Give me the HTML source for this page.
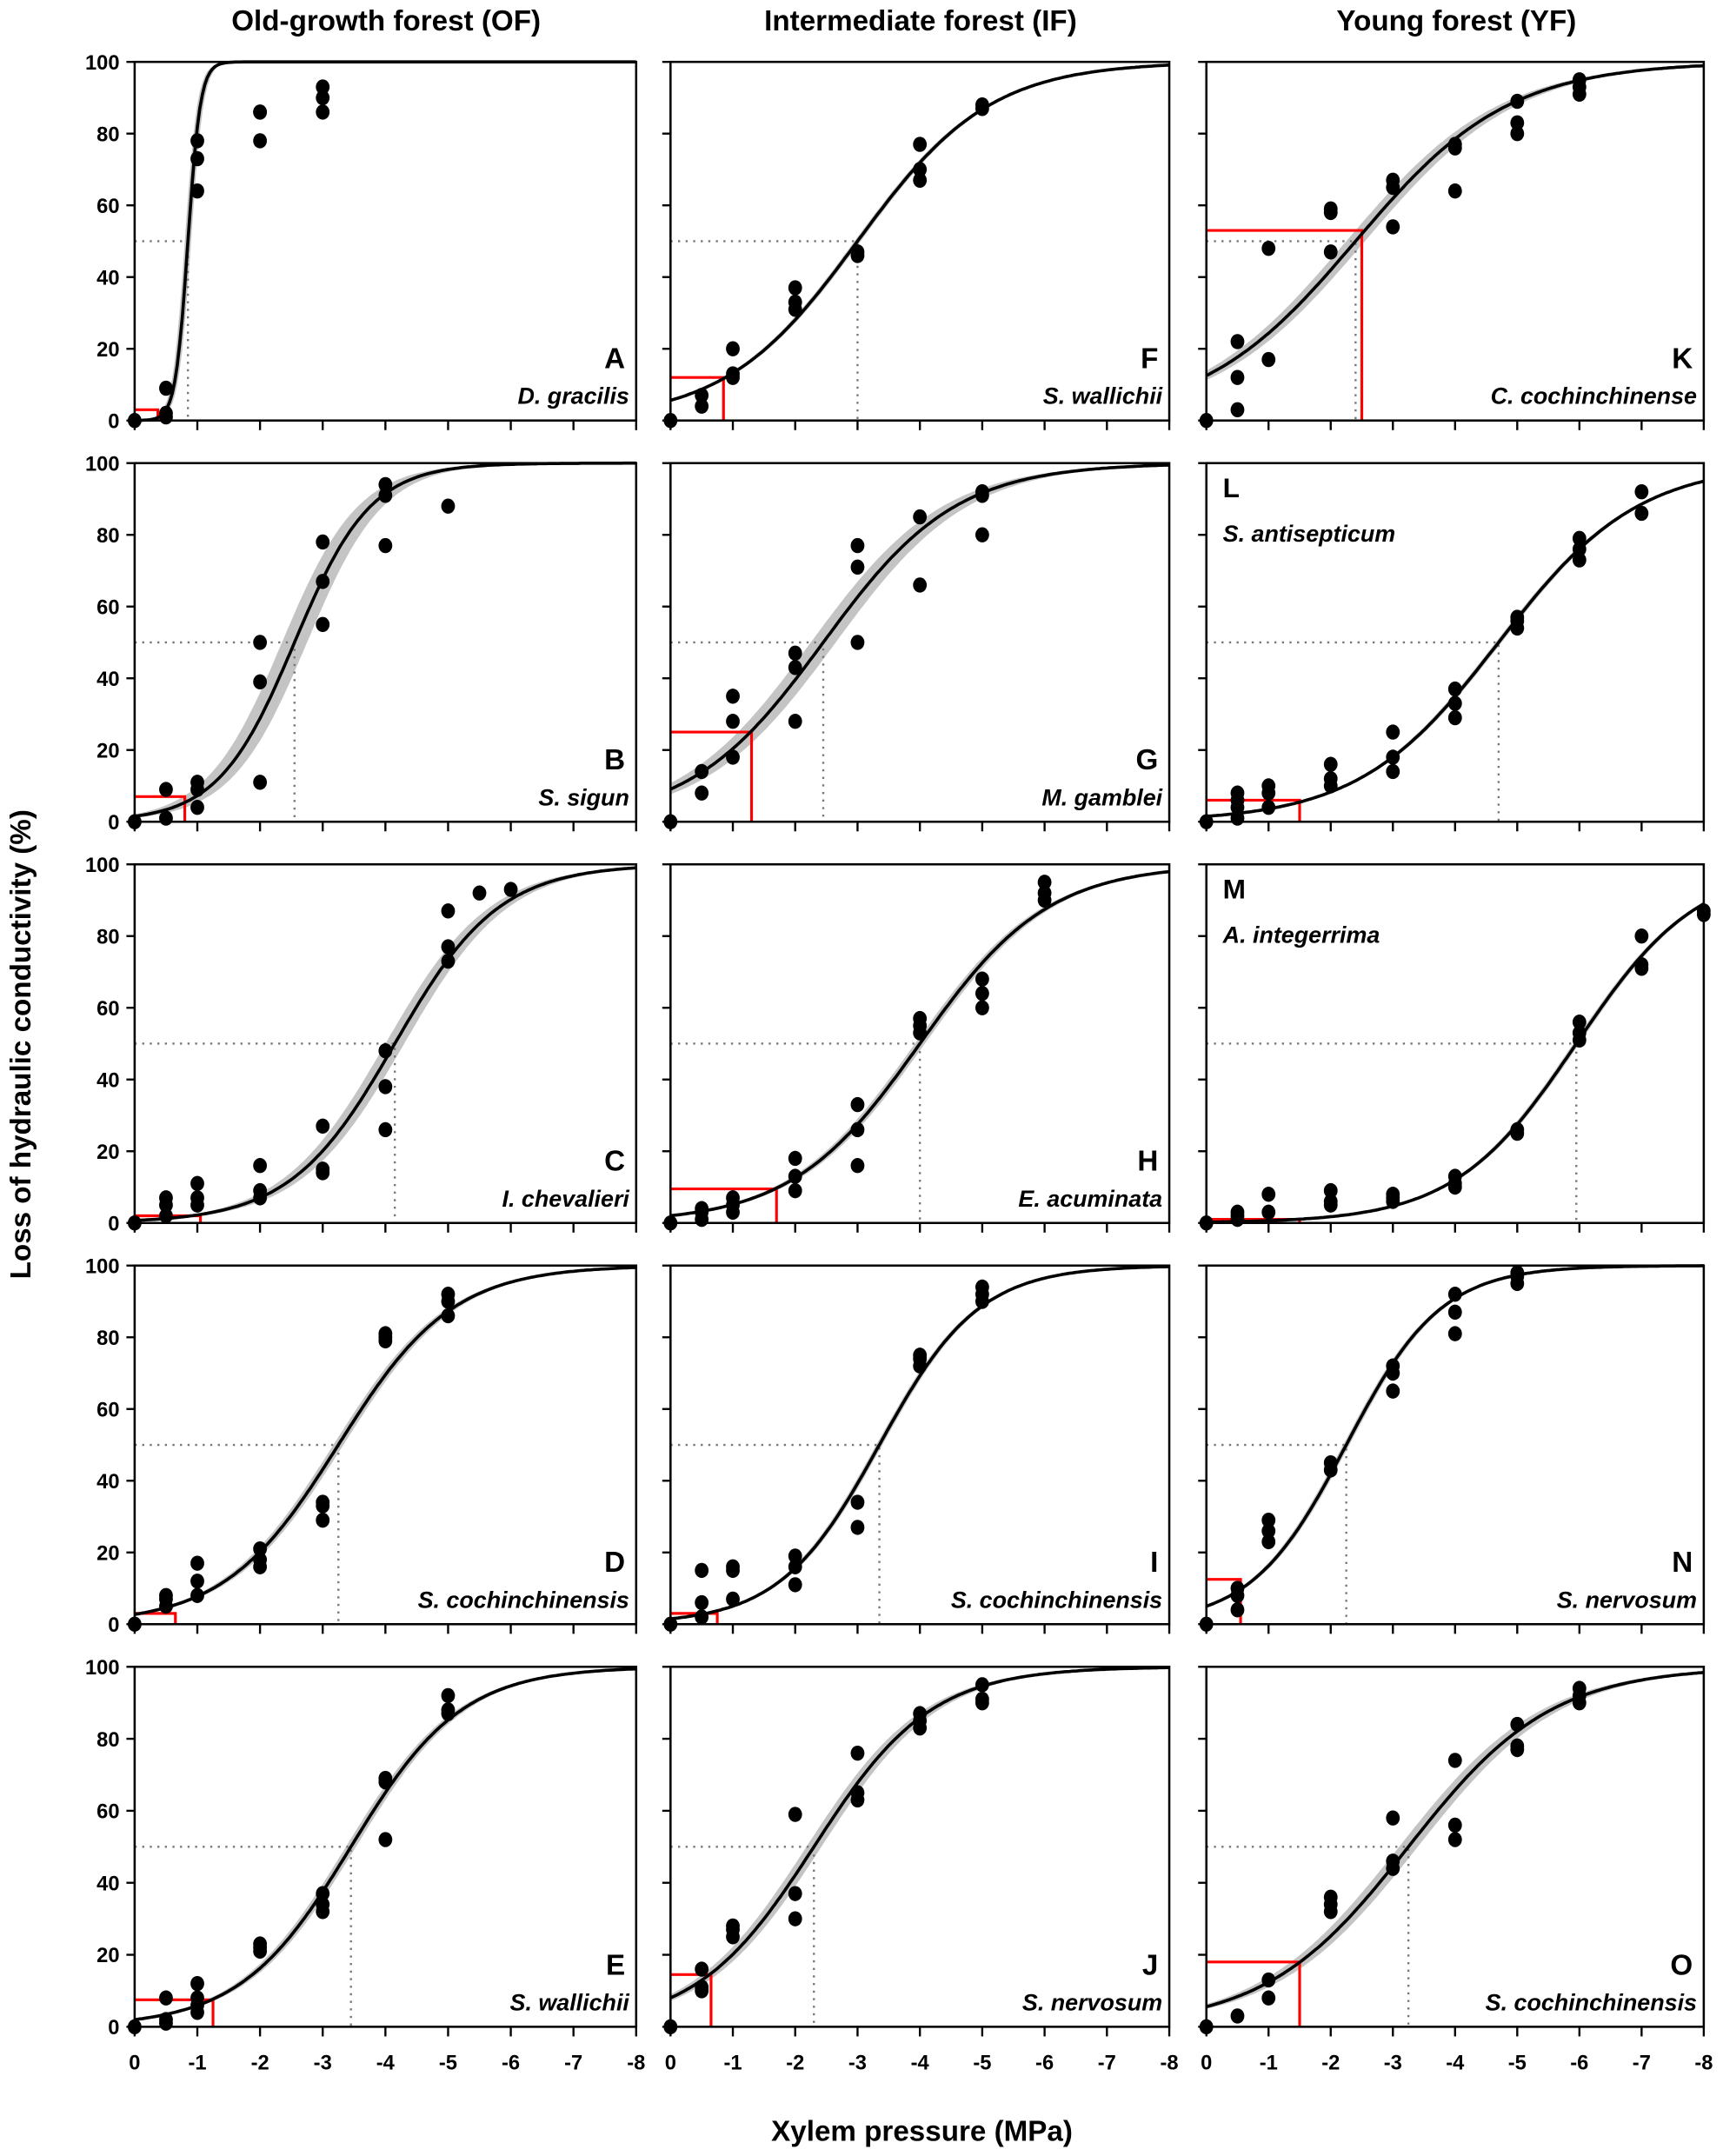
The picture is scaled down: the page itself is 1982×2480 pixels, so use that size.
<!DOCTYPE html>
<html><head><meta charset="utf-8">
<style>html,body{margin:0;padding:0;background:#fff}svg{display:block}text{font-family:"Liberation Sans",Arial,sans-serif;font-weight:bold}</style>
</head><body>
<svg id="s" xmlns="http://www.w3.org/2000/svg" width="1982" height="2480" viewBox="0 0 1254 1569"></svg>
<script>
const S=document.getElementById('s');let h='';
const cols=[[98,463],[488,851],[878,1240]];
const rows=[[45,306],[337,598],[629,890],[921,1182],[1213,1475]];
const P=[
// col1
[["A","D. gracilis",0.85,10,3,0.37,0.05,0,[[0,0],[0.5,1],[0.5,2],[0.5,9],[1,64],[1,73],[1,78],[2,78],[2,86],[2,86],[3,86],[3,90],[3,93]]],
 ["B","S. sigun",2.55,1.64,7,0.8,0.2,0,[[0,0],[0.5,1],[0.5,9],[1,4],[1,9],[1,11],[2,11],[2,39],[2,50],[3,55],[3,67],[3,78],[4,77],[4,91],[4,94],[5,88]]],
 ["C","I. chevalieri",4.15,1.2,2,1.05,0.15,0,[[0,0],[0.5,2],[0.5,5],[0.5,7],[1,5],[1,7],[1,11],[2,7],[2,9],[2,16],[3,14],[3,15],[3,27],[4,26],[4,38],[4,48],[5,73],[5,77],[5,87],[5.5,92],[6,93]]],
 ["D","S. cochinchinensis",3.25,1.1,3,0.65,0.08,0,[[0,0],[0.5,5],[0.5,7],[0.5,8],[1,8],[1,12],[1,17],[2,16],[2,18],[2,21],[3,29],[3,33],[3,34],[4,79],[4,80],[4,81],[5,86],[5,90],[5,92]]],
 ["E","S. wallichii",3.45,1.13,7.5,1.25,0.08,0,[[0,0],[0.5,1],[0.5,2],[0.5,8],[1,4],[1,6],[1,8],[1,12],[2,21],[2,22],[2,23],[3,32],[3,34],[3,37],[4,52],[4,68],[4,69],[5,87],[5,88],[5,92]]]],
[["F","S. wallichii",3.0,0.94,12,0.85,0.05,0,[[0,0],[0.5,4],[0.5,7],[1,12],[1,13],[1,20],[2,31],[2,33],[2,37],[3,46],[3,47],[4,67],[4,70],[4,77],[5,87],[5,88]]],
 ["G","M. gamblei",2.45,0.94,25,1.3,0.2,0,[[0,0],[0.5,8],[0.5,14],[1,18],[1,28],[1,35],[2,28],[2,43],[2,47],[3,50],[3,71],[3,77],[4,66],[4,85],[5,80],[5,91],[5,92]]],
 ["H","E. acuminata",4.0,0.97,9.5,1.7,0.08,0,[[0,0],[0.5,1],[0.5,3],[0.5,4],[1,3],[1,5],[1,7],[2,9],[2,13],[2,18],[3,16],[3,26],[3,33],[4,53],[4,55],[4,57],[5,60],[5,64],[5,68],[6,90],[6,92],[6,95]]],
 ["I","S. cochinchinensis",3.35,1.25,3,0.75,0.05,0,[[0,0],[0.5,2],[0.5,6],[0.5,15],[1,7],[1,15],[1,16],[2,11],[2,16],[2,19],[3,27],[3,34],[4,72],[4,74],[4,75],[5,90],[5,92],[5,94]]],
 ["J","S. nervosum",2.3,1.06,14.5,0.65,0.12,0,[[0,0],[0.5,10],[0.5,11],[0.5,16],[1,25],[1,27],[1,28],[2,30],[2,37],[2,59],[3,63],[3,65],[3,76],[4,83],[4,85],[4,87],[5,90],[5,91],[5,95]]]],
[["K","C. cochinchinense",2.4,0.81,53,2.5,0.15,0,[[0,0],[0.5,3],[0.5,12],[0.5,22],[1,17],[1,48],[2,47],[2,58],[2,59],[3,54],[3,65],[3,67],[4,64],[4,76],[4,77],[5,80],[5,83],[5,89],[6,91],[6,93],[6,95]]],
 ["L","S. antisepticum",4.7,0.89,6,1.5,0.05,1,[[0,0],[0.5,1],[0.5,4],[0.5,6],[0.5,8],[1,4],[1,8],[1,10],[2,10],[2,12],[2,16],[3,14],[3,18],[3,25],[4,29],[4,33],[4,37],[5,54],[5,56],[5,57],[6,73],[6,76],[6,79],[7,86],[7,92]]],
 ["M","A. integerrima",5.95,1.02,1,1.5,0.05,1,[[0,0],[0.5,1],[0.5,2],[0.5,3],[1,3],[1,8],[2,5],[2,6],[2,9],[3,6],[3,7],[3,8],[4,10],[4,11],[4,13],[5,25],[5,26],[6,51],[6,53],[6,56],[7,71],[7,72],[7,80],[8,86],[8,87]]],
 ["N","S. nervosum",2.25,1.31,12.5,0.55,0.05,0,[[0,0],[0.5,4],[0.5,8],[0.5,10],[1,23],[1,26],[1,29],[2,43],[2,45],[3,65],[3,70],[3,72],[4,81],[4,87],[4,92],[5,95],[5,97],[5,98]]],
 ["O","S. cochinchinensis",3.25,0.87,18,1.5,0.15,0,[[0,0],[0.5,3],[1,8],[1,13],[2,32],[2,34],[2,36],[3,44],[3,46],[3,58],[4,52],[4,56],[4,74],[5,77],[5,78],[5,84],[6,90],[6,92],[6,94]]]]
];
const f=(p,p50,a)=>100/(1+Math.exp(-a*(p-p50)));
for(let c=0;c<3;c++)for(let r=0;r<5;r++){
 const [L,R]=cols[c],[T,B]=rows[r],W=R-L,H=B-T;
 const X=p=>L+p/8*W,Y=v=>B-v/100*H;
 const [lt,sp,p50,a,ry,rp,d,tl,pts]=P[c][r];
 // band
 let up=[],dn=[];
 for(let i=0;i<=200;i++){const p=i/25;const v1=f(p,p50-d,a),v2=f(p,p50+d,a);up.push(X(p).toFixed(1)+','+Y(Math.max(v1,v2)).toFixed(1));dn.unshift(X(p).toFixed(1)+','+Y(Math.min(v1,v2)).toFixed(1));}
 h+=`<polygon points="${up.join(' ')} ${dn.join(' ')}" fill="#c4c4c4"/>`;
 // dotted
 h+=`<path d="M${L} ${Y(50)}H${X(p50)}V${B}" fill="none" stroke="#777" stroke-width="1.5" stroke-dasharray="1.5 4"/>`;
 // red
 h+=`<path d="M${L} ${Y(ry)}H${X(rp)}V${B}" fill="none" stroke="#f00" stroke-width="2"/>`;
 // curve
 let cv=[];for(let i=0;i<=200;i++){const p=i/25;cv.push(X(p).toFixed(1)+','+Y(f(p,p50,a)).toFixed(1));}
 h+=`<polyline points="${cv.join(' ')}" fill="none" stroke="#000" stroke-width="2.3"/>`;
 // frame
 h+=`<rect x="${L}" y="${T}" width="${W}" height="${H}" fill="none" stroke="#000" stroke-width="1.6"/>`;
 for(let k=0;k<=5;k++){const y=Y(k*20);h+=`<line x1="${L-6}" x2="${L}" y1="${y}" y2="${y}" stroke="#000" stroke-width="1.5"/>`;
  if(c==0)h+=`<text x="${L-11}" y="${y+5.5}" font-size="15" text-anchor="end">${k*20}</text>`;}
 for(let k=0;k<=8;k++){const x=X(k);h+=`<line x1="${x}" x2="${x}" y1="${B}" y2="${B+7}" stroke="#000" stroke-width="1.5"/>`;
  if(r==4)h+=`<text x="${x}" y="${B+31}" font-size="15" text-anchor="middle">${k?'-'+k:0}</text>`;}
 for(const [p,v] of pts)h+=`<ellipse cx="${X(p)}" cy="${Y(v)}" rx="5" ry="5.5" fill="#000"/>`;
 if(tl){h+=`<text x="${L+12}" y="${T+25}" font-size="20">${lt}</text><text x="${L+12}" y="${T+57}" font-size="17" font-style="italic">${sp}</text>`;}
 else{h+=`<text x="${R-8}" y="${B-38}" font-size="21" text-anchor="end">${lt}</text><text x="${R-5}" y="${B-12}" font-size="17" font-style="italic" text-anchor="end">${sp}</text>`;}
}
h+=`<text x="281" y="22" font-size="21" text-anchor="middle">Old-growth forest (OF)</text>`;
h+=`<text x="670" y="22" font-size="21" text-anchor="middle">Intermediate forest (IF)</text>`;
h+=`<text x="1060" y="22" font-size="21" text-anchor="middle">Young forest (YF)</text>`;
h+=`<text x="671" y="1558" font-size="21" text-anchor="middle">Xylem pressure (MPa)</text>`;
h+=`<text transform="translate(22,760) rotate(-90)" font-size="21" text-anchor="middle">Loss of hydraulic conductivity (%)</text>`;
S.innerHTML=h;
</script>
</body></html>
